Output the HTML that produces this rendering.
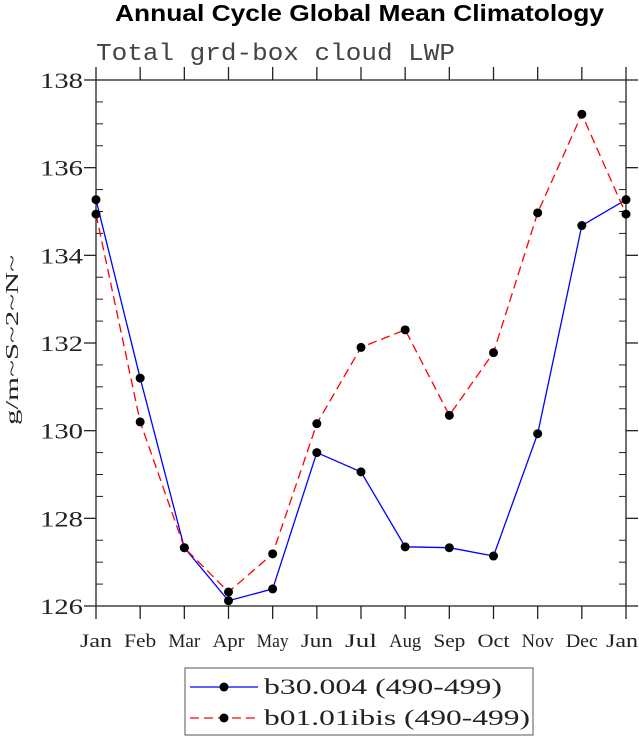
<!DOCTYPE html>
<html><head><meta charset="utf-8"><style>
body{margin:0;background:#fff}
svg text{font-family:"Liberation Serif",serif;fill:#222}
</style></head><body>
<svg id="chart" width="639" height="739" xmlns="http://www.w3.org/2000/svg">
<text x="115" y="21" textLength="489" lengthAdjust="spacingAndGlyphs" style="font-family:'Liberation Sans',sans-serif;font-weight:bold;font-size:23px;fill:#000">Annual Cycle Global Mean Climatology</text>
<text x="96" y="60" textLength="359" lengthAdjust="spacingAndGlyphs" style="font-family:'Liberation Mono',monospace;font-size:24px;fill:#444">Total grd-box cloud LWP</text>
<text transform="translate(18,340) rotate(-90)" x="-85" y="0" textLength="170" lengthAdjust="spacingAndGlyphs" style="font-size:18px">g/m~S~2~N~</text>
<g id="axes"></g>
<g id="series"></g>
<g>
<rect x="185" y="668" width="348" height="67" fill="#fff" stroke="#555" stroke-width="1"/>
<g><line x1="190" y1="687" x2="258" y2="687" stroke="#0000ff" stroke-width="1.3"/><circle cx="224" cy="687" r="4.5" fill="#000"/><text x="264" y="694" textLength="238" lengthAdjust="spacingAndGlyphs" style="font-size:22px">b30.004 (490-499)</text></g>
<g><line x1="190" y1="718" x2="258" y2="718" stroke="#ff0000" stroke-width="1.3" stroke-dasharray="9,5"/><circle cx="224" cy="718" r="4.5" fill="#000"/><text x="264" y="725" textLength="266" lengthAdjust="spacingAndGlyphs" style="font-size:22px">b01.01ibis (490-499)</text></g>
</g>
</svg>
<script>
const months=["Jan","Feb","Mar","Apr","May","Jun","Jul","Aug","Sep","Oct","Nov","Dec","Jan"];
const yTicks=[126,128,130,132,134,136,138];
const seriesB30=[135.27,131.2,127.33,126.12,126.39,129.5,129.06,127.35,127.33,127.14,129.93,134.68,135.27];
const seriesB01=[134.94,130.2,127.33,126.32,127.19,130.16,131.9,132.3,130.35,131.78,134.97,137.22,134.94];
const X0=96,X1=626,Y0=606,Y1=80;
const xs=i=>X0+(X1-X0)*i/(months.length-1);
const ys=v=>Y0-(v-126)*(Y0-Y1)/12;
const NS="http://www.w3.org/2000/svg";
function mk(t,a,p){const e=document.createElementNS(NS,t);for(const k in a)e.setAttribute(k,a[k]);p.appendChild(e);return e;}
const ax=document.getElementById('axes');
const frame=mk('rect',{x:X0,y:Y1,width:X1-X0,height:Y0-Y1,fill:'none',stroke:'#222','stroke-width':1.3},ax);


yTicks.forEach(v=>{const y=ys(v);
 mk('line',{x1:X0-12,y1:y,x2:X0,y2:y,stroke:'#222','stroke-width':1.3},ax);
 mk('line',{x1:X1,y1:y,x2:X1+12,y2:y,stroke:'#222','stroke-width':1.3},ax);
 const t=mk('text',{x:X0-56,y:y+8,textLength:43,lengthAdjust:'spacingAndGlyphs','font-size':'22px'},ax);t.textContent=v;
 
 
});
for(let v=126.5;v<138;v+=0.5){if(v%2===0)continue;const y=ys(v);
 mk('line',{x1:X0,y1:y,x2:X0+7,y2:y,stroke:'#222','stroke-width':1},ax);
 mk('line',{x1:X1-7,y1:y,x2:X1,y2:y,stroke:'#222','stroke-width':1},ax);}
months.forEach((m,i)=>{const x=xs(i);
 mk('line',{x1:x,y1:Y0,x2:x,y2:Y0+13,stroke:'#222','stroke-width':1.3},ax);
 mk('line',{x1:x,y1:Y1-13,x2:x,y2:Y1,stroke:'#222','stroke-width':1.3},ax);
 const lx=Math.min(x-16,639-33);
 const t=mk('text',{x:lx,y:Y0+41,textLength:32,lengthAdjust:'spacingAndGlyphs','font-size':'19px'},ax);t.textContent=m;
 
 
});
const sg=document.getElementById('series');
function draw(vals,color,dash,name){
 const pl=mk('polyline',{points:vals.map((v,i)=>xs(i)+','+ys(v)).join(' '),fill:'none',stroke:color,'stroke-width':1.3,'stroke-dasharray':dash},sg);
 
 
 vals.forEach((v,i)=>{const c=mk('circle',{cx:xs(i),cy:ys(v),r:4.5,fill:'#000'},sg);
  
  });
}
draw(seriesB30,'#0000ff','none','b30');
draw(seriesB01,'#ff0000','9,5','b01');
</script>
</body></html>
